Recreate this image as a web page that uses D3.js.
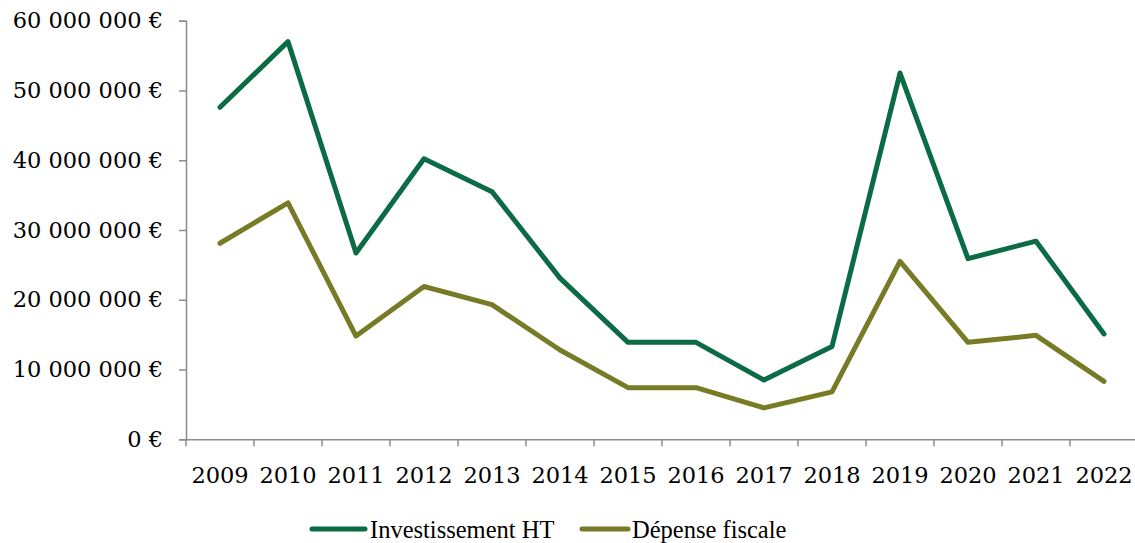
<!DOCTYPE html>
<html>
<head>
<meta charset="utf-8">
<script src="https://cdn.jsdelivr.net/npm/d3@7"></script>
<style>
  html, body { margin: 0; padding: 0; background: #ffffff; }
  svg { display: block; }
</style>
</head>
<body>
<svg id="chart" width="1135" height="543"></svg>
<script>
const years = ["2009","2010","2011","2012","2013","2014","2015","2016","2017","2018","2019","2020","2021","2022"];
const investissementHT = [47.6e6, 57.0e6, 26.7e6, 40.2e6, 35.5e6, 23.1e6, 13.9e6, 13.9e6, 8.5e6, 13.3e6, 52.5e6, 25.9e6, 28.4e6, 15.1e6];
const depenseFiscale = [28.1e6, 33.9e6, 14.8e6, 21.9e6, 19.3e6, 12.8e6, 7.4e6, 7.4e6, 4.5e6, 6.8e6, 25.5e6, 13.9e6, 14.9e6, 8.3e6];
const yTicks = [0, 10e6, 20e6, 30e6, 40e6, 50e6, 60e6];
const seriesNames = ["Investissement HT", "Dépense fiscale"];
const seriesColors = ["#0b6b45", "#787b26"];

const svg = d3.select("#chart");
const axisColor = "#8c8c8c";
const numFont = "'DejaVu Serif', serif";
const legFont = "'Liberation Serif', serif";

const x = d3.scaleBand().domain(years).range([186, 1138]).paddingInner(0).paddingOuter(0);
const y = d3.scaleLinear().domain([0, 60e6]).range([439.3, 20.7]);

const loc = d3.formatLocale({decimal: ",", thousands: "\u2009", grouping: [3], currency: ["", "\u00a0€"]});
const fmt = v => loc.format(",")(v).replace(/\u2009/g, " ") + " €";

// Y axis
const yAxis = svg.append("g")
  .attr("transform", "translate(186,0)")
  .call(d3.axisLeft(y).tickValues(yTicks).tickSize(7).tickPadding(16).tickFormat(fmt));
yAxis.select(".domain").attr("stroke", axisColor).attr("stroke-width", 1.5);
yAxis.selectAll(".tick line").attr("stroke", axisColor).attr("stroke-width", 1.5);
yAxis.selectAll(".tick text")
  .attr("font-family", numFont).attr("font-size", 22.5).attr("fill", "#000");

// X axis (labels at band centres, ticks at band boundaries)
const xAxis = svg.append("g")
  .attr("transform", `translate(0,${y(0)})`)
  .call(d3.axisBottom(x).tickSize(0).tickPadding(28).tickSizeOuter(0));
xAxis.select(".domain").attr("stroke", axisColor).attr("stroke-width", 1.5);
xAxis.selectAll(".tick text")
  .attr("font-family", numFont).attr("font-size", 22.5).attr("fill", "#000");
const boundaries = years.map(d => x(d)).concat([x(years[years.length - 1]) + x.bandwidth()]);
xAxis.selectAll("line.bt").data(boundaries).enter().append("line")
  .attr("class", "bt")
  .attr("x1", d => d).attr("x2", d => d)
  .attr("y1", 0).attr("y2", 7)
  .attr("stroke", axisColor).attr("stroke-width", 1.5);

// Lines
const allSeries = [investissementHT, depenseFiscale];
const line = d3.line()
  .x((d, i) => x(years[i]) + x.bandwidth() / 2)
  .y(d => y(d));
allSeries.forEach((s, k) => {
  svg.append("path")
    .datum(s)
    .attr("d", line)
    .attr("fill", "none")
    .attr("stroke", seriesColors[k])
    .attr("stroke-width", 5)
    .attr("stroke-linejoin", "round")
    .attr("stroke-linecap", "round");
});

// Legend
const legendItems = [{x: 312, w: 53, tx: 370}, {x: 582, w: 46, tx: 632}];
legendItems.forEach((it, k) => {
  const g = svg.append("g");
  g.append("line")
    .attr("x1", it.x).attr("x2", it.x + it.w)
    .attr("y1", 529).attr("y2", 529)
    .attr("stroke", seriesColors[k]).attr("stroke-width", 5)
    .attr("stroke-linecap", "round");
  g.append("text")
    .attr("x", it.tx).attr("y", 537.5)
    .attr("font-family", legFont).attr("font-size", 24.5).attr("fill", "#000")
    .text(seriesNames[k]);
});
</script>
</body>
</html>
